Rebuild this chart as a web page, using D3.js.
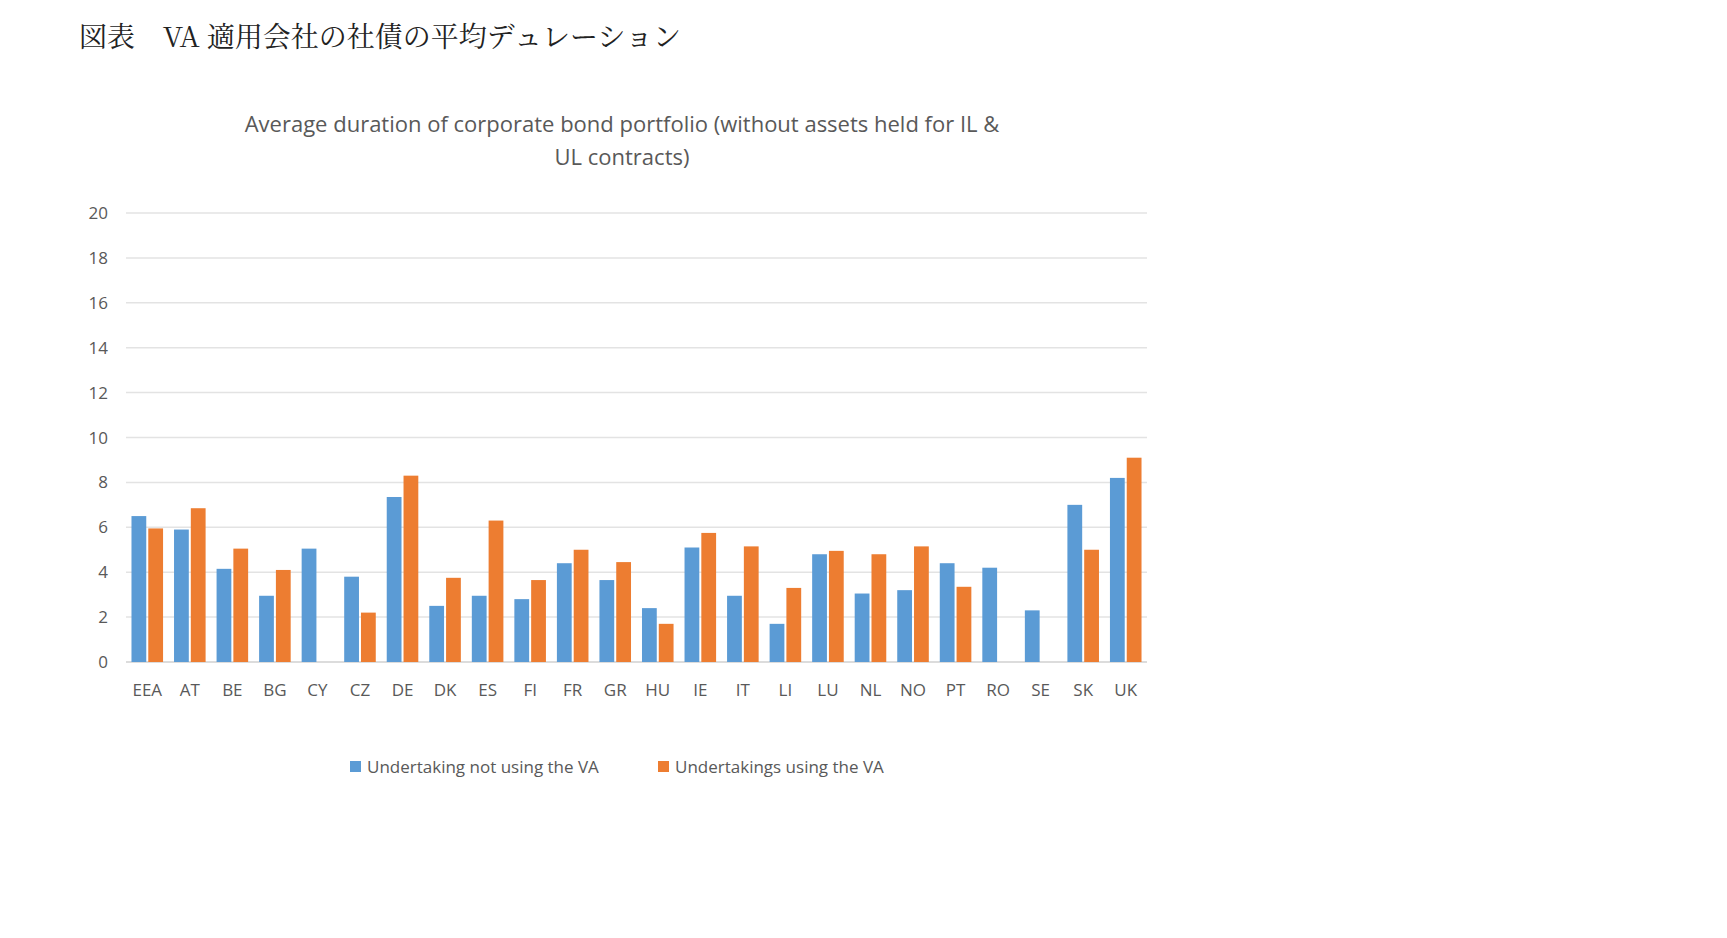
<!DOCTYPE html>
<html>
<head>
<meta charset="utf-8">
<script src="https://cdn.jsdelivr.net/npm/d3@7"></script>
<style>
body { margin: 0; background: #fff; }
text { font-family: "Open Sans", "Noto Sans", sans-serif; fill: #595959; }
</style>
</head>
<body>
<svg id="chart" width="1727" height="938"></svg>
<script>
// data
const countries = ["EEA","AT","BE","BG","CY","CZ","DE","DK","ES","FI","FR","GR","HU","IE","IT","LI","LU","NL","NO","PT","RO","SE","SK","UK"];
const notUsingVA = [6.5,5.9,4.15,2.95,5.05,3.8,7.35,2.5,2.95,2.8,4.4,3.65,2.4,5.1,2.95,1.7,4.8,3.05,3.2,4.4,4.2,2.3,7.0,8.2];
const usingVA = [5.95,6.85,5.05,4.1,0,2.2,8.3,3.75,6.3,3.65,5.0,4.45,1.7,5.75,5.15,3.3,4.95,4.8,5.15,3.35,0,0,5.0,9.1];
const yTicks = [0,2,4,6,8,10,12,14,16,18,20];
const seriesNames = ["Undertaking not using the VA", "Undertakings using the VA"];
const colors = ["#5b9bd5", "#ed7d31"];

const svg = d3.select("#chart");
const plotLeft = 126, plotRight = 1147, plotTop = 213, plotBottom = 662;

svg.append("text")
    .attr("x", 79).attr("y", 47)
    .style("font-family", "'Noto Serif CJK JP', 'Noto Sans CJK JP', serif")
    .style("font-size", "28px").style("fill", "#222")
    .text("図表　VA 適用会社の社債の平均デュレーション");

const title = svg.append("text")
    .attr("text-anchor", "middle")
    .style("font-size", "22px");
title.append("tspan").attr("x", 622).attr("y", 132)
    .text("Average duration of corporate bond portfolio (without assets held for IL &");
title.append("tspan").attr("x", 622).attr("y", 165).text("UL contracts)");

const x = d3.scaleBand().domain(countries).range([plotLeft, plotRight]).paddingInner(0.1).paddingOuter(0.05);
const y = d3.scaleLinear().domain([0, 20]).range([plotBottom, plotTop]);
const x1 = d3.scaleBand().domain([0, 1]).range([0, x.bandwidth()]).paddingInner(0.12).paddingOuter(0.2);

// gridlines
svg.append("g").selectAll("line").data(yTicks).join("line")
    .attr("x1", plotLeft).attr("x2", plotRight)
    .attr("y1", d => y(d)).attr("y2", d => y(d))
    .attr("stroke", d => d === 0 ? "#d0d0d0" : "#e3e3e3").attr("stroke-width", 1.5);

svg.append("g").selectAll("text").data(yTicks).join("text")
    .attr("x", 108).attr("y", d => y(d) + 6)
    .attr("text-anchor", "end").style("font-size", "17px")
    .text(d => d);

const groups = svg.append("g").selectAll("g").data(countries).join("g")
    .attr("transform", d => `translate(${x(d)},0)`);

groups.selectAll("rect")
    .data((d, i) => [notUsingVA[i], usingVA[i]])
    .join("rect")
    .attr("x", (d, j) => x1(j))
    .attr("width", x1.bandwidth())
    .attr("y", d => y(d))
    .attr("height", d => y(0) - y(d))
    .attr("fill", (d, j) => colors[j]);

svg.append("g").selectAll("text").data(countries).join("text")
    .attr("x", d => x(d) + x.bandwidth() / 2).attr("y", 696)
    .attr("text-anchor", "middle").style("font-size", "17px")
    .text(d => d);

// legend
const legX = [350, 658];
seriesNames.forEach((name, i) => {
    svg.append("rect").attr("x", legX[i]).attr("y", 761).attr("width", 11).attr("height", 11).attr("fill", colors[i]);
    svg.append("text").attr("x", legX[i] + 17).attr("y", 773).style("font-size", "17px").text(name);
});
</script>
</body>
</html>
